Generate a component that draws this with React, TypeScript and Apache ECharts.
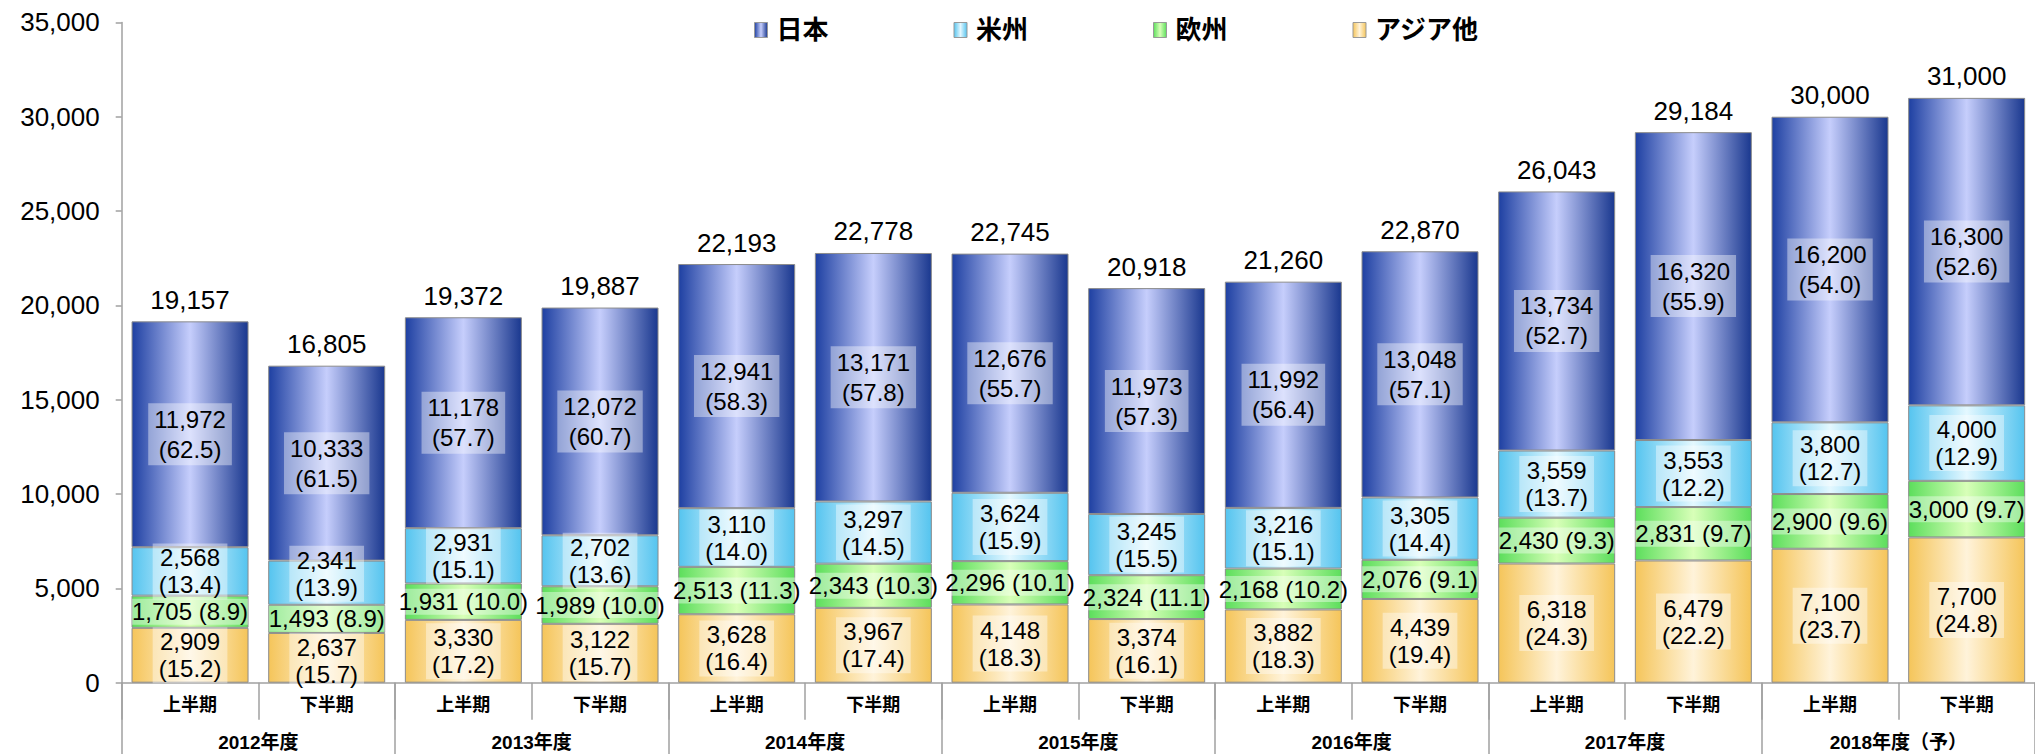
import React, { useEffect, useRef } from "react";
import * as echarts from "echarts";

const categories = ["上半期", "下半期", "上半期", "下半期", "上半期", "下半期", "上半期", "下半期", "上半期", "下半期", "上半期", "下半期", "上半期", "下半期"];
const years = ["2012年度", "2013年度", "2014年度", "2015年度", "2016年度", "2017年度", "2018年度（予）"];

const japan = [11972, 10333, 11178, 12072, 12941, 13171, 12676, 11973, 11992, 13048, 13734, 16320, 16200, 16300];
const japanPct = ["62.5", "61.5", "57.7", "60.7", "58.3", "57.8", "55.7", "57.3", "56.4", "57.1", "52.7", "55.9", "54.0", "52.6"];
const america = [2568, 2341, 2931, 2702, 3110, 3297, 3624, 3245, 3216, 3305, 3559, 3553, 3800, 4000];
const americaPct = ["13.4", "13.9", "15.1", "13.6", "14.0", "14.5", "15.9", "15.5", "15.1", "14.4", "13.7", "12.2", "12.7", "12.9"];
const europe = [1705, 1493, 1931, 1989, 2513, 2343, 2296, 2324, 2168, 2076, 2430, 2831, 2900, 3000];
const europePct = ["8.9", "8.9", "10.0", "10.0", "11.3", "10.3", "10.1", "11.1", "10.2", "9.1", "9.3", "9.7", "9.6", "9.7"];
const asia = [2909, 2637, 3330, 3122, 3628, 3967, 4148, 3374, 3882, 4439, 6318, 6479, 7100, 7700];
const asiaPct = ["15.2", "15.7", "17.2", "15.7", "16.4", "17.4", "18.3", "16.1", "18.3", "19.4", "24.3", "22.2", "23.7", "24.8"];
const totals = [19157, 16805, 19372, 19887, 22193, 22778, 22745, 20918, 21260, 22870, 26043, 29184, 30000, 31000];

const NUM_FONT = "'Liberation Sans', Arial, 'Noto Sans CJK JP', sans-serif";
const CJK_FONT = "'Liberation Sans', 'Noto Sans CJK JP', sans-serif";
const AXIS_COLOR = "#a0a0a0";

// small vertical nudges of crowded segment labels (as in the original)
const labelNudge: Record<string, Record<number, number>> = {
  "米州": { 1: -9 },
  "アジア他": { 1: 3 },
};

const fmt = (v: number) => v.toLocaleString("en-US");

function grad(edge: string, mid: string, edge2: string) {
  return new echarts.graphic.LinearGradient(0, 0, 1, 0, [
    { offset: 0, color: edge },
    { offset: 0.5, color: mid },
    { offset: 1, color: edge2 },
  ]);
}

function barSeries(name: string, values: number[], pcts: string[], color: any, oneLine: boolean, lineHeight: number) {
  const nudge = labelNudge[name] || {};
  return {
    name,
    type: "bar",
    stack: "total",
    barWidth: 117,
    data: values.map((v, i) => (nudge[i] ? { value: v, label: { offset: [0, nudge[i]] } } : v)),
    itemStyle: { color, borderColor: "#8c8c8c", borderWidth: 1 },
    label: {
      show: true,
      position: "inside",
      formatter: (p: any) =>
        oneLine ? `${fmt(values[p.dataIndex])} (${pcts[p.dataIndex]})` : `${fmt(values[p.dataIndex])}\n(${pcts[p.dataIndex]})`,
      color: "#000",
      fontSize: 24,
      lineHeight,
      fontFamily: NUM_FONT,
      backgroundColor: "rgba(255,255,255,0.4)",
      padding: oneLine ? [0, 0, 0, 0] : [1, 6, 1, 6],
    },
    emphasis: { disabled: true },
  };
}

export default function App() {
  const ref = useRef<HTMLDivElement>(null);
  useEffect(() => {
    if (!ref.current) return;
    const chart = echarts.init(ref.current, null, { renderer: "svg" });
    const option: any = {
      animation: false,
      backgroundColor: "#ffffff",
      legend: {
        data: ["日本", "米州", "欧州", "アジア他"],
        icon: "rect",
        left: 749,
        top: 12,
        itemWidth: 13,
        itemHeight: 15,
        itemGap: 125,
        selectedMode: false,
        itemStyle: { borderColor: "#999", borderWidth: 1 },
        textStyle: { fontSize: 26, fontWeight: "bold", color: "#000", fontFamily: CJK_FONT, padding: [0, 0, 0, 4] },
      },
      grid: { left: 121.7, right: -10.3, top: 22.4, bottom: 71.3, containLabel: false },
      xAxis: [
        {
          type: "category",
          data: categories,
          position: "bottom",
          axisLine: { show: true, lineStyle: { color: AXIS_COLOR, width: 1.5 } },
          axisTick: { show: true, interval: 0, length: 37, lineStyle: { color: AXIS_COLOR, width: 1.5 } },
          axisLabel: { interval: 0, margin: 13, fontSize: 18, fontWeight: "bold", color: "#000", fontFamily: CJK_FONT },
        },
        {
          type: "category",
          data: years,
          position: "bottom",
          offset: 0,
          axisLine: { show: false },
          axisTick: { show: true, interval: 0, length: 80, lineStyle: { color: AXIS_COLOR, width: 1.5 } },
          axisLabel: { interval: 0, margin: 50, fontSize: 19, fontWeight: "bold", color: "#000", fontFamily: CJK_FONT },
        },
      ],
      yAxis: {
        type: "value",
        min: 0,
        max: 35000,
        interval: 5000,
        axisLine: { show: true, lineStyle: { color: AXIS_COLOR, width: 1.5 } },
        axisTick: { show: true, length: 6, lineStyle: { color: AXIS_COLOR, width: 1.5 } },
        splitLine: { show: false },
        axisLabel: { fontSize: 26, color: "#000", margin: 22, fontFamily: NUM_FONT, formatter: (v: number) => fmt(v) },
      },
      series: [
        barSeries("アジア他", asia, asiaPct, grad("#f5c55a", "#fff3da", "#f5c55a"), false, 27),
        barSeries("欧州", europe, europePct, grad("#5cde5c", "#d8ffb8", "#5cde5c"), true, 26),
        barSeries("米州", america, americaPct, grad("#55c4ef", "#e4f8ff", "#55c4ef"), false, 27),
        barSeries("日本", japan, japanPct, grad("#1e40a2", "#c6cefc", "#1a388f"), false, 30),
        {
          name: "合計",
          type: "line",
          data: totals,
          symbol: "circle",
          symbolSize: 1,
          itemStyle: { color: "rgba(0,0,0,0)" },
          lineStyle: { width: 0, opacity: 0 },
          silent: true,
          z: 10,
          label: {
            show: true,
            position: "top",
            distance: 8,
            formatter: (p: any) => fmt(totals[p.dataIndex]),
            color: "#000",
            fontSize: 26,
            fontFamily: NUM_FONT,
          },
          emphasis: { disabled: true },
        },
      ],
    };
    chart.setOption(option);
    return () => chart.dispose();
  }, []);
  return (
    <div
      ref={ref}
      style={{ position: "absolute", left: 0, top: 0, width: 2035, height: 754, background: "#fff" }}
    />
  );
}
